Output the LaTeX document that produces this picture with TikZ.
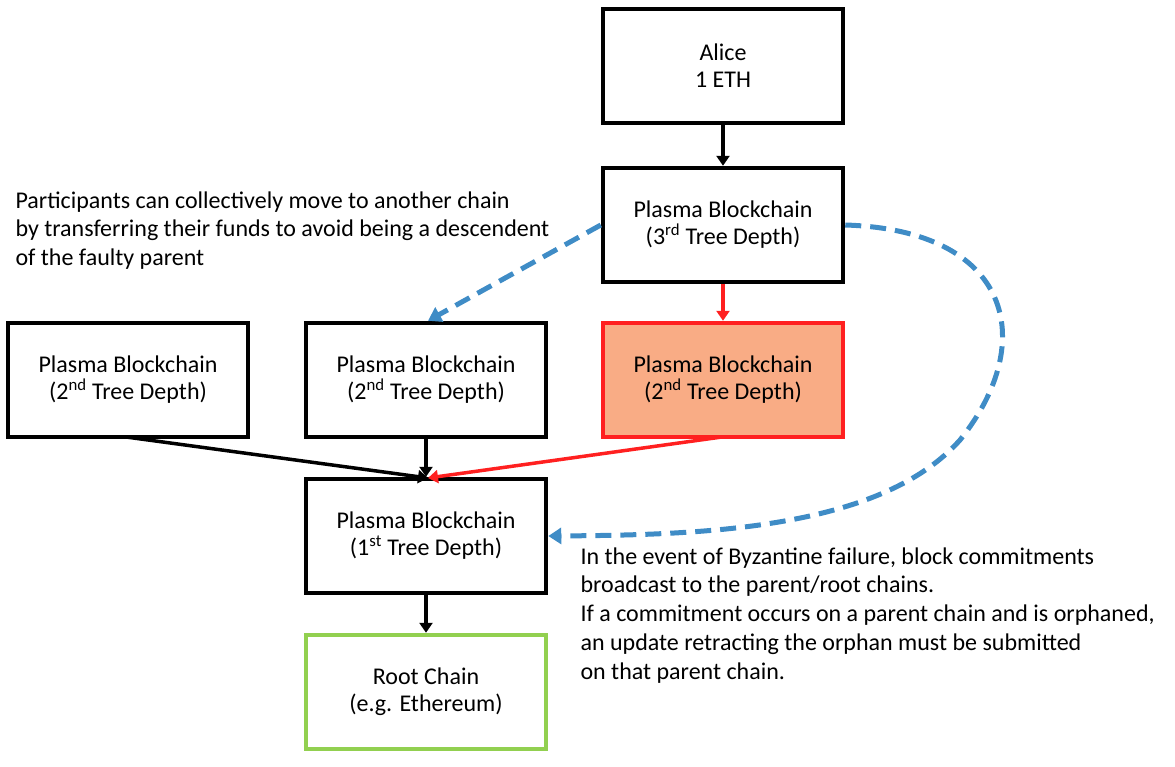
\documentclass[tikz,border=0pt]{standalone}
\usepackage{fontspec}
\setmainfont{Carlito}
\usetikzlibrary{arrows.meta}
\definecolor{bl}{HTML}{3F8CC6}
\definecolor{rd}{HTML}{FF2020}
\definecolor{gr}{HTML}{92D050}
\definecolor{pk}{HTML}{F9AC85}
\begin{document}
\begin{tikzpicture}[x=1pt,y=-1pt,
 box/.style={draw=black,line width=4.5pt,minimum width=240pt,minimum height=114pt,align=center,font=\fontsize{24}{27}\selectfont},
 ar/.style={line width=3.5pt,-{Triangle[length=10pt,width=13pt]}},
 da/.style={draw=bl,line width=5pt,dash pattern=on 16pt off 9pt,-{Triangle[length=13pt,width=16pt]}},
 txt/.style={anchor=north west,align=left,font=\fontsize{24}{28.7}\selectfont}]
\useasboundingbox (0,0) rectangle (1175,766);
\node[box] (alice) at (723,66) {Alice\\1 ETH};
\node[box] (p3) at (723,225) {Plasma Blockchain\\(3\textsuperscript{rd} Tree Depth)};
\node[box] (l2) at (128,380) {Plasma Blockchain\\(2\textsuperscript{nd} Tree Depth)};
\node[box] (m2) at (426,380) {Plasma Blockchain\\(2\textsuperscript{nd} Tree Depth)};
\node[box,draw=rd,fill=pk] (r2) at (723,380) {Plasma Blockchain\\(2\textsuperscript{nd} Tree Depth)};
\node[box] (p1) at (426,536) {Plasma Blockchain\\(1\textsuperscript{st} Tree Depth)};
\node[box,draw=gr] (root) at (426,692) {Root Chain\\(e.g. Ethereum)};
\coordinate (hit) at (428,478);
\draw[ar] (alice) -- (p3);
\draw[ar,color=rd] (p3) -- (r2);
\draw[ar] (m2) -- (p1);
\draw[ar] (p1) -- (root);
\draw[ar] (l2.south) ++(0,-2) -- (hit);
\draw[ar,color=rd] ([xshift=-3pt,yshift=2pt]r2.south) -- (hit);
\draw[da] (p3.west) -- ([xshift=2pt]m2.north);
\draw[da] (p3.east) .. controls (1010,230) and (1040,340) .. (960,440) .. controls (880,530) and (700,535) .. (p1.east);
\node[txt] (t1) at (12,188) {Participants can collectively move to another chain\\by transferring their funds to avoid being a descendent\\of the faulty parent};
\node[txt] (t2) at (577,544) {In the event of Byzantine failure, block commitments\\broadcast to the parent/root chains.\\If a commitment occurs on a parent chain and is orphaned,\\an update retracting the orphan must be submitted\\on that parent chain.};
\end{tikzpicture}
\end{document}
